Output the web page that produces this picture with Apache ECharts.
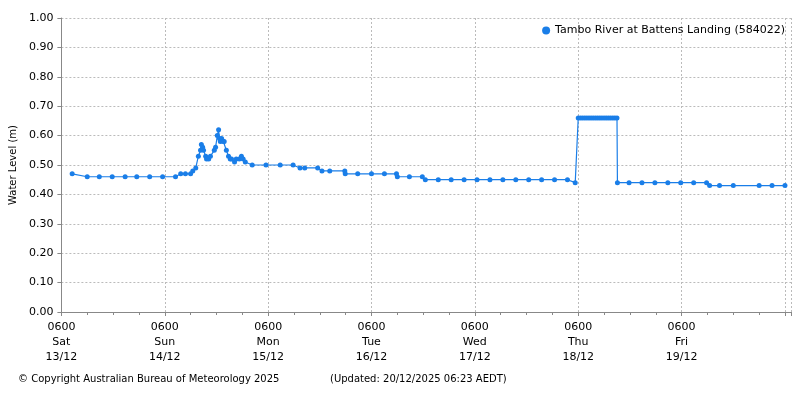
<!DOCTYPE html>
<html><head><meta charset="utf-8">
<script src="https://cdn.jsdelivr.net/npm/echarts@6/dist/echarts.min.js"></script>
<style>html,body{margin:0;padding:0;background:#fff}#c{width:800px;height:400px}</style>
</head><body><div id="c"></div>
<script>
// hours since Sat 13/12 06:00
const hours = [2.5,6,8.8,11.8,14.8,17.5,20.5,23.5,26.5,27.7,28.8,30,30.5,31.2,31.8,32.3,32.5,32.8,33,33.5,33.7,34.2,34.6,35.5,35.8,36.2,36.5,36.7,36.9,37.2,37.6,37.8,38.3,38.8,39.2,39.5,40.2,40.6,41.3,41.8,42.2,42.7,44.3,47.5,50.8,53.8,55.4,56.5,59.5,60.5,62.3,65.8,65.9,68.8,72,75,77.8,78,80.8,83.8,84.5,87.5,90.5,93.5,96.5,99.5,102.5,105.5,108.5,111.5,114.5,117.5,119.3,
120,120.5,121,121.5,122,122.5,123,123.5,124,124.5,125,125.5,126,126.5,127,127.5,128,128.5,129,
129.1,131.8,134.8,137.8,140.8,143.8,146.8,149.8,150.5,152.8,156,162,165,168];
const levels = [0.47,0.46,0.46,0.46,0.46,0.46,0.46,0.46,0.46,0.47,0.47,0.47,0.48,0.49,0.53,0.55,0.57,0.56,0.55,0.53,0.52,0.52,0.53,0.55,0.56,0.60,0.62,0.59,0.58,0.59,0.58,0.58,0.55,0.53,0.52,0.52,0.51,0.52,0.52,0.53,0.52,0.51,0.50,0.50,0.50,0.50,0.49,0.49,0.49,0.48,0.48,0.48,0.47,0.47,0.47,0.47,0.47,0.46,0.46,0.46,0.45,0.45,0.45,0.45,0.45,0.45,0.45,0.45,0.45,0.45,0.45,0.45,0.44,
0.66,0.66,0.66,0.66,0.66,0.66,0.66,0.66,0.66,0.66,0.66,0.66,0.66,0.66,0.66,0.66,0.66,0.66,0.66,
0.44,0.44,0.44,0.44,0.44,0.44,0.44,0.44,0.43,0.43,0.43,0.43,0.43,0.43];
const dayLabels = ['0600\nSat\n13/12','0600\nSun\n14/12','0600\nMon\n15/12','0600\nTue\n16/12','0600\nWed\n17/12','0600\nThu\n18/12','0600\nFri\n19/12'];
const seriesName = 'Tambo River at Battens Landing (584022)';
const data = hours.map((h,i)=>[h,levels[i]]);
const F = 'DejaVu Sans';
const chart = echarts.init(document.getElementById('c'));
chart.setOption({
  animation:false,
  textStyle:{fontFamily:F},
  grid:{left:57,right:9,top:18,bottom:88},
  legend:{right:10,top:20,itemWidth:8,itemHeight:8,icon:'circle',textStyle:{fontSize:11,color:'#000',fontFamily:F},data:[seriesName]},
  xAxis:{type:'value',min:0,max:169.4,interval:24,
    axisLine:{lineStyle:{color:'#888'}},axisTick:{length:4,lineStyle:{color:'#888'}},
    minorTick:{show:true,splitNumber:4,length:3,lineStyle:{color:'#888'}},
    axisLabel:{color:'#000',fontSize:11,lineHeight:15,fontFamily:F,showMaxLabel:false,formatter:v=>dayLabels[Math.round(v/24)]||''},
    splitLine:{show:true,lineStyle:{color:'#bbb',type:[2,2]}}},
  yAxis:{type:'value',min:0,max:1,interval:0.1,name:'Water Level (m)',nameLocation:'middle',nameGap:40,
    nameTextStyle:{fontSize:10,color:'#000',fontFamily:F},
    axisLine:{show:true,lineStyle:{color:'#888'}},axisTick:{show:true,length:4,lineStyle:{color:'#888'}},
    axisLabel:{color:'#000',fontSize:11,fontFamily:F,formatter:v=>v.toFixed(2)},
    splitLine:{show:true,lineStyle:{color:'#bbb',type:[2,2]}}},
  series:[{name:seriesName,type:'line',data:data,color:'#1a7ee8',symbol:'circle',symbolSize:5,lineStyle:{width:1.2}}],
  graphic:[
    {type:'text',left:18,top:374,style:{text:'© Copyright Australian Bureau of Meteorology 2025',fontSize:10,fontFamily:F,fill:'#000'}},
    {type:'text',left:330,top:374,style:{text:'(Updated: 20/12/2025 06:23 AEDT)',fontSize:10,fontFamily:F,fill:'#000'}}
  ]
});
</script></body></html>
